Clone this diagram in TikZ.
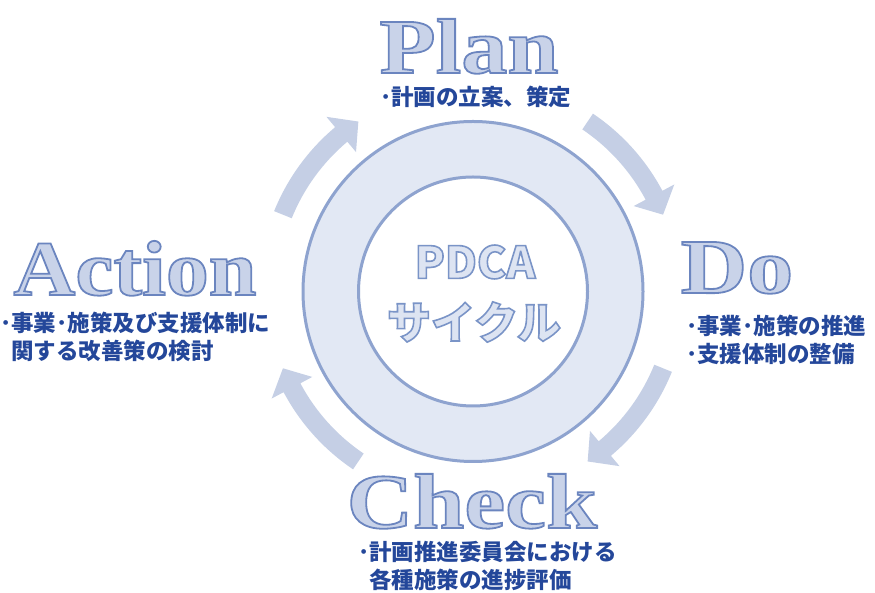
\documentclass[tikz,border=0pt]{standalone}
\usepackage{fontspec}
\newfontfamily\jpfont{Noto Sans CJK JP}
\newfontfamily\enfont{Liberation Serif}[FakeStretch=1.18]
\newfontfamily\enfontA{Liberation Serif}[FakeStretch=1.10]
\definecolor{arrowc}{HTML}{C5CFE5}
\definecolor{ringfill}{HTML}{E2E8F4}
\definecolor{ringline}{HTML}{8EA3CF}
\definecolor{jpblue}{HTML}{24479A}
\definecolor{wordfill}{HTML}{C9D3E9}
\definecolor{pdcafill}{HTML}{DDE4F2}
\newcommand\outlinedtext[3]{\special{pdf:literal direct 2 Tr #2 w #1 RG}#3\special{pdf:literal direct 0 Tr 0.4 w}}
\tikzset{
  bigword/.style={inner sep=0pt, anchor=base, text depth=0pt, text=wordfill, font=\enfont\bfseries\fontsize{78}{80}\selectfont},
  jptext/.style={inner sep=0pt, anchor=base west, align=left, text=jpblue, font=\jpfont\bfseries\fontsize{22.5}{28}\selectfont},
  centertext/.style={inner sep=0pt, text=pdcafill, font=\jpfont\bfseries\fontsize{44}{46}\selectfont},
  ring/.style={draw=ringline, line width=3pt}
}
\begin{document}
\begin{tikzpicture}[x=1pt,y=1pt]
\useasboundingbox (0,0) rectangle (875,593);
\coordinate (C) at (473,301.5);
% cycle arrows
\foreach \a [evaluate=\a as \s using \a+17,
             evaluate=\a as \h using \a-11,
             evaluate=\a as \e using \a-17] in {141,39,-39,-141}{
  \fill[arrowc] ([shift={(\s:214.5)}]C) arc[start angle=\s, end angle=\h, radius=214.5]
    -- ([shift={(\h:228)}]C) -- ([shift={(\e:205)}]C) -- ([shift={(\h:182)}]C)
    -- ([shift={(\h:195.5)}]C) arc[start angle=\h, end angle=\s, radius=195.5] -- cycle;
}
% rings
\node[ring, circle, fill=ringfill, minimum size=340pt, inner sep=0pt] (outer) at (C) {};
\node[ring, circle, fill=white, minimum size=229pt, inner sep=0pt] (inner) at (C) {};
% center text
\node[centertext] (pdca) at (475,331) {\outlinedtext{0.48 0.58 0.78}{1.6}{PDCA}};
\node[centertext] (cycle) at (474,271) {\outlinedtext{0.48 0.58 0.78}{1.6}{サイクル}};
% big words
\node[bigword] (plan) at (469,520) {\outlinedtext{0.42 0.52 0.75}{1.8}{Plan}};
\node[bigword] (do) at (737,300) {\outlinedtext{0.42 0.52 0.75}{1.8}{Do}};
\node[bigword, font=\enfontA\bfseries\fontsize{78}{80}\selectfont] (action) at (135,298) {\outlinedtext{0.42 0.52 0.75}{1.8}{Action}};
\node[bigword] (check) at (472,65) {\outlinedtext{0.42 0.52 0.75}{1.8}{Check}};
% descriptions (base anchor = baseline of last line)
\node[jptext] (plantxt) at (380,487) {･計画の立案、策定};
\node[jptext] (dotxt) at (686,230) {･事業･施策の推進\\･支援体制の整備};
\node[jptext] (actiontxt) at (0,233) {･事業･施策及び支援体制に\\\hspace*{0.5em}関する改善策の検討};
\node[jptext] (checktxt) at (358,4) {･計画推進委員会における\\\hspace*{0.5em}各種施策の進捗評価};
\end{tikzpicture}
\end{document}
